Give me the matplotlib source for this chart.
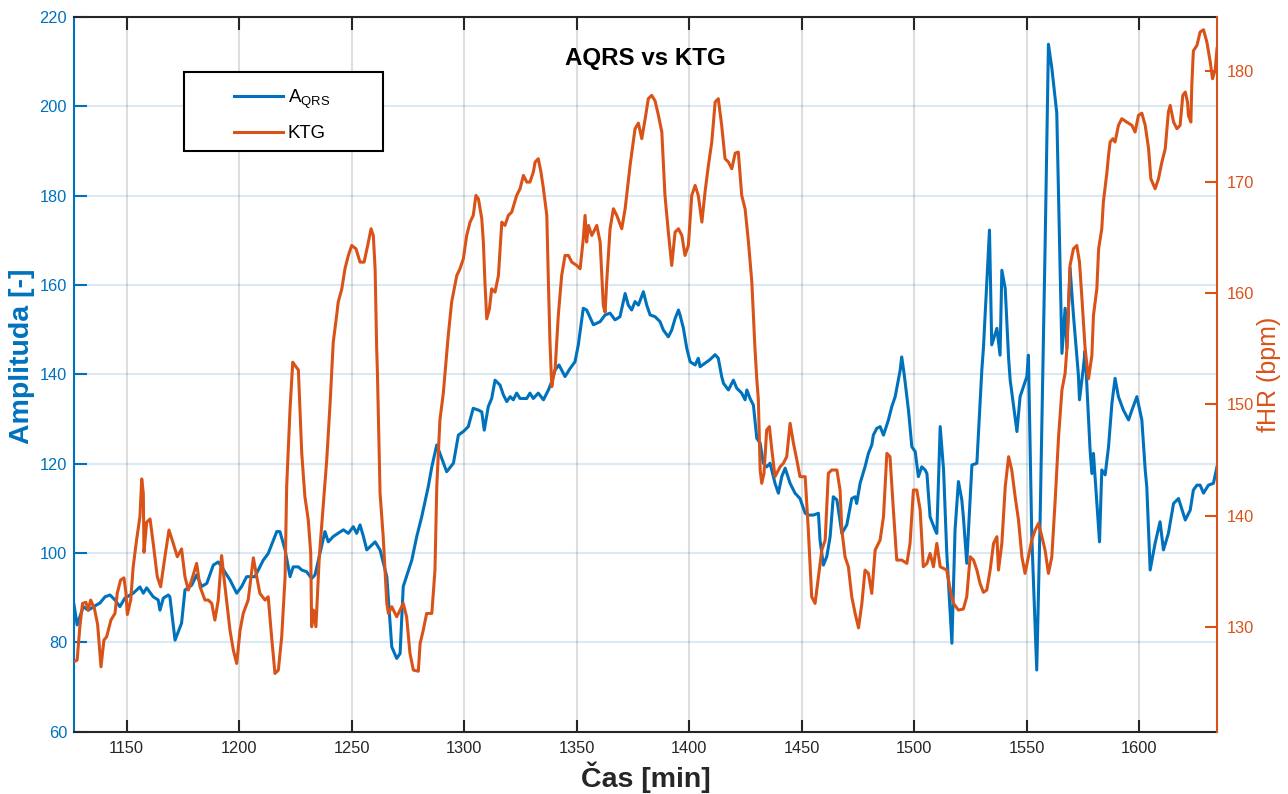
import matplotlib
matplotlib.use("Agg")
import matplotlib.pyplot as plt
from matplotlib.patches import Rectangle

plt.rcParams["font.family"] = ["Liberation Sans", "DejaVu Sans"]
plt.rcParams["mathtext.fontset"] = "custom"
plt.rcParams["mathtext.rm"] = "Liberation Sans"

# ---- QRS amplitude (left axis) ----
time_aqrs = [1126.6, 1128.0, 1130.7, 1132.9, 1136.7, 1138.1, 1140.4, 1142.6, 1144.8, 1147.0,
             1149.2, 1152.9, 1155.9, 1157.4, 1158.9, 1161.8, 1164.0, 1164.8, 1166.3, 1168.5,
             1169.2, 1171.5, 1174.4, 1175.9, 1178.9, 1181.1, 1183.3, 1185.6, 1188.5, 1190.7,
             1192.2, 1195.9, 1198.9, 1201.1, 1203.3, 1207.0, 1210.7, 1212.9, 1216.7, 1218.1,
             1220.4, 1222.6, 1224.0, 1226.3, 1227.8, 1230.0, 1232.2, 1233.7, 1235.9, 1238.1,
             1239.6, 1241.8, 1246.3, 1248.5, 1250.7, 1252.2, 1253.7, 1255.2, 1256.7, 1260.4,
             1262.6, 1265.6, 1267.8, 1270.0, 1271.5, 1272.9, 1276.7, 1278.9, 1281.1, 1284.0,
             1285.6, 1287.8, 1292.2, 1295.2, 1297.4, 1299.6, 1301.8, 1304.0, 1306.3, 1307.8,
             1308.9, 1310.7, 1312.2, 1313.7, 1315.9, 1317.4, 1318.9, 1320.4, 1321.8, 1323.3,
             1324.8, 1327.8, 1329.2, 1330.7, 1332.9, 1335.2, 1337.4, 1338.9, 1340.4, 1342.1,
             1344.8, 1347.0, 1349.2, 1350.7, 1352.9, 1354.4, 1357.4, 1360.4, 1362.6, 1364.8,
             1367.0, 1369.2, 1371.5, 1372.9, 1374.4, 1375.9, 1377.4, 1379.6, 1381.1, 1382.6,
             1384.8, 1387.0, 1388.5, 1390.7, 1392.2, 1393.7, 1395.2, 1395.9, 1397.4, 1398.9,
             1400.4, 1402.6, 1404.0, 1404.8, 1407.0, 1409.2, 1411.5, 1412.9, 1414.4, 1415.2,
             1417.4, 1419.6, 1421.1, 1423.3, 1424.8, 1425.6, 1427.0, 1428.5, 1430.0, 1431.5,
             1432.9, 1434.4, 1435.9, 1438.1, 1439.6, 1441.1, 1442.6, 1444.8, 1447.0, 1449.2,
             1451.5, 1452.9, 1455.2, 1457.4, 1458.1, 1459.6, 1461.1, 1462.6, 1464.0, 1465.6,
             1467.8, 1470.0, 1472.2, 1473.7, 1474.4, 1475.9, 1478.1, 1479.6, 1481.1, 1481.8,
             1483.3, 1484.8, 1486.3, 1487.0, 1488.5, 1490.0, 1491.5, 1493.7, 1494.4, 1495.5,
             1497.4, 1498.9, 1500.4, 1501.8, 1503.3, 1504.8, 1505.6, 1507.0, 1509.2, 1510.0,
             1511.5, 1513.0, 1514.4, 1516.7, 1518.1, 1519.6, 1521.1, 1521.8, 1523.3, 1525.6,
             1527.8, 1530.0, 1530.7, 1533.4, 1534.4, 1536.7, 1538.1, 1538.9, 1540.4, 1541.9,
             1542.6, 1545.6, 1547.0, 1550.0, 1550.7, 1552.2, 1554.4, 1555.9, 1558.1, 1559.6,
             1561.1, 1563.3, 1565.6, 1567.0, 1567.8, 1569.2, 1570.7, 1572.9, 1573.4, 1575.0,
             1575.9, 1578.1, 1578.9, 1579.6, 1582.3, 1583.3, 1584.8, 1586.3, 1587.8, 1589.2,
             1590.7, 1592.9, 1595.2, 1596.7, 1598.9, 1601.1, 1602.6, 1603.3, 1604.8, 1607.0,
             1609.2, 1610.7, 1612.9, 1615.2, 1617.4, 1620.4, 1622.6, 1624.0, 1625.6, 1627.0,
             1628.5, 1630.7, 1632.9, 1634.5]
aqrs = [88.4, 83.9, 88.0, 87.2, 88.4, 88.8, 90.2, 90.6, 89.5, 88.0,
        89.9, 91.0, 92.4, 91.0, 92.2, 90.2, 89.5, 87.2, 89.9, 90.6,
        90.2, 80.5, 84.3, 91.7, 92.8, 95.1, 92.5, 93.2, 97.3, 98.0,
        96.9, 94.0, 91.0, 92.5, 94.7, 94.7, 98.4, 99.9, 104.8, 104.8,
        100.7, 94.7, 96.9, 96.9, 96.2, 95.8, 94.3, 95.1, 99.9, 104.8,
        102.5, 103.7, 105.2, 104.4, 105.9, 104.4, 106.3, 103.7, 100.7, 102.5,
        100.7, 94.7, 79.0, 76.4, 77.5, 92.5, 98.4, 103.7, 108.1, 114.8,
        119.3, 124.2, 118.2, 120.1, 126.4, 127.2, 128.3, 132.4, 132.0, 131.6,
        127.5, 132.8, 134.6, 138.7, 137.6, 135.4, 133.9, 135.0, 134.3, 135.8,
        134.6, 134.6, 135.8, 134.6, 135.8, 134.3, 136.5, 138.4, 141.0, 142.1,
        139.5, 141.3, 142.8, 146.6, 154.8, 154.4, 151.1, 151.8, 153.3, 153.7,
        152.2, 152.9, 158.1, 155.5, 154.4, 156.3, 155.5, 158.5, 155.5, 153.3,
        152.9, 151.8, 149.9, 148.4, 149.9, 152.5, 154.4, 153.3, 150.3, 145.8,
        142.8, 142.1, 143.6, 141.7, 142.5, 143.3, 144.4, 143.6, 139.5, 138.0,
        136.5, 138.7, 136.9, 135.8, 134.3, 136.5, 134.6, 133.1, 125.7, 124.6,
        120.1, 119.3, 120.1, 115.6, 113.4, 117.1, 119.0, 115.6, 113.4, 112.2,
        108.9, 108.5, 108.5, 108.9, 102.9, 97.3, 99.2, 103.7, 112.6, 111.9,
        104.4, 106.3, 112.2, 112.6, 111.1, 115.6, 119.3, 122.3, 124.2, 126.4,
        127.9, 128.3, 126.4, 127.5, 129.8, 132.8, 135.0, 140.9, 143.9, 140.0,
        132.0, 123.8, 122.7, 117.1, 119.3, 118.6, 117.8, 108.1, 105.2, 104.4,
        128.3, 118.6, 100.3, 79.8, 105.2, 116.0, 111.9, 108.1, 97.7, 119.7,
        120.1, 141.0, 145.8, 172.3, 146.6, 150.3, 144.3, 163.3, 159.2, 143.6,
        138.7, 127.2, 135.0, 139.5, 144.3, 103.7, 73.8, 107.4, 168.2, 213.9,
        208.6, 198.5, 144.7, 154.8, 145.8, 163.8, 153.3, 139.9, 134.3, 141.0,
        145.3, 123.1, 117.8, 122.3, 102.5, 118.6, 117.5, 123.8, 133.5, 139.1,
        135.0, 132.0, 129.8, 132.0, 135.0, 129.8, 118.6, 114.8, 96.2, 102.2,
        107.0, 100.7, 104.4, 111.1, 112.2, 107.4, 109.6, 114.1, 115.2, 115.2,
        113.4, 115.2, 115.6, 119.3]

# ---- fetal heart rate from CTG (right axis) ----
time_ktg = [1127.0, 1128.0, 1129.2, 1130.4, 1131.9, 1132.9, 1134.0, 1135.6, 1137.1, 1138.6,
            1139.9, 1141.1, 1143.0, 1144.8, 1145.8, 1147.3, 1148.8, 1149.7, 1150.3, 1151.8,
            1152.9, 1154.4, 1155.9, 1156.7, 1157.4, 1157.7, 1158.9, 1160.4, 1161.8, 1163.6,
            1165.1, 1167.0, 1168.8, 1170.7, 1172.5, 1174.4, 1175.9, 1177.4, 1178.9, 1181.1,
            1182.6, 1184.8, 1186.3, 1187.8, 1189.2, 1190.7, 1192.2, 1193.2, 1194.4, 1195.9,
            1197.4, 1198.9, 1200.4, 1201.8, 1204.0, 1206.3, 1207.8, 1209.2, 1211.5, 1212.9,
            1214.4, 1215.9, 1217.4, 1218.9, 1220.4, 1221.1, 1222.6, 1223.8, 1224.8, 1226.3,
            1227.8, 1229.2, 1230.7, 1231.8, 1232.2, 1233.0, 1234.1, 1235.6, 1237.4, 1238.9,
            1240.4, 1241.8, 1243.3, 1244.0, 1245.6, 1247.0, 1248.5, 1250.0, 1251.9, 1253.7,
            1255.5, 1257.1, 1258.6, 1259.6, 1260.4, 1261.1, 1261.4, 1262.6, 1264.0, 1265.6,
            1266.3, 1267.8, 1270.0, 1271.5, 1272.9, 1274.4, 1275.9, 1277.4, 1279.6, 1280.4,
            1281.8, 1283.3, 1285.6, 1287.0, 1287.8, 1289.2, 1290.7, 1292.9, 1294.4, 1296.7,
            1298.1, 1299.6, 1301.1, 1302.6, 1304.0, 1305.2, 1306.3, 1307.8, 1308.5, 1309.2,
            1310.0, 1311.2, 1312.2, 1313.7, 1315.2, 1316.7, 1318.1, 1319.6, 1321.1, 1323.3,
            1324.8, 1326.3, 1327.8, 1329.2, 1330.7, 1331.5, 1332.9, 1334.1, 1335.2, 1336.7,
            1337.4, 1338.1, 1338.9, 1339.6, 1340.4, 1341.8, 1343.3, 1344.8, 1346.3, 1347.8,
            1350.0, 1351.5, 1352.9, 1353.7, 1354.4, 1355.2, 1356.7, 1358.9, 1360.4, 1361.8,
            1362.6, 1363.3, 1364.8, 1366.3, 1367.8, 1370.0, 1371.5, 1373.7, 1375.9, 1377.4,
            1378.9, 1380.4, 1381.8, 1383.3, 1384.8, 1386.3, 1387.8, 1389.2, 1390.7, 1392.2,
            1393.7, 1395.2, 1396.7, 1398.1, 1399.6, 1401.1, 1402.6, 1404.0, 1405.6, 1407.0,
            1408.5, 1410.0, 1411.5, 1412.9, 1414.4, 1415.9, 1417.4, 1418.9, 1420.4, 1421.8,
            1423.3, 1424.8, 1426.3, 1427.8, 1429.2, 1430.0, 1430.7, 1431.5, 1432.2, 1433.2,
            1434.4, 1435.6, 1436.7, 1438.1, 1440.4, 1441.8, 1443.3, 1444.8, 1446.3, 1447.8,
            1449.2, 1451.5, 1452.9, 1454.4, 1455.9, 1457.4, 1458.9, 1460.4, 1461.8, 1463.3,
            1465.6, 1467.0, 1467.8, 1469.2, 1470.7, 1472.2, 1473.7, 1475.2, 1476.7, 1478.1,
            1479.6, 1481.1, 1482.6, 1484.8, 1486.3, 1487.8, 1489.2, 1490.7, 1492.2, 1494.4,
            1496.7, 1498.1, 1499.6, 1501.1, 1502.6, 1504.0, 1505.6, 1507.0, 1508.5, 1510.0,
            1511.5, 1514.4, 1516.0, 1517.4, 1519.6, 1521.8, 1523.3, 1524.8, 1526.3, 1527.8,
            1529.2, 1530.7, 1532.2, 1533.7, 1535.2, 1536.7, 1537.4, 1538.9, 1540.4, 1541.9,
            1543.3, 1544.8, 1546.3, 1547.8, 1549.2, 1550.7, 1552.2, 1553.7, 1555.2, 1556.7,
            1558.1, 1559.6, 1561.1, 1562.6, 1564.1, 1565.6, 1567.0, 1567.8, 1569.2, 1570.7,
            1572.2, 1573.4, 1574.4, 1575.9, 1577.4, 1578.9, 1579.6, 1581.1, 1581.9, 1583.3,
            1584.0, 1585.6, 1586.3, 1587.0, 1588.2, 1589.2, 1590.7, 1592.2, 1594.4, 1596.7,
            1598.1, 1599.6, 1601.1, 1602.6, 1604.1, 1605.1, 1607.0, 1608.5, 1610.0, 1611.5,
            1612.9, 1613.7, 1615.2, 1616.7, 1618.1, 1619.3, 1620.4, 1621.4, 1621.8, 1622.9,
            1623.3, 1624.0, 1625.6, 1627.0, 1628.5, 1630.0, 1631.5, 1632.5, 1633.7, 1634.5]
ktg = [126.9, 127.0, 130.0, 132.1, 132.2, 131.5, 132.4, 131.7, 130.2, 126.4,
       128.8, 129.1, 130.6, 131.2, 133.0, 134.2, 134.4, 133.0, 131.1, 132.4,
       135.4, 137.8, 139.9, 143.3, 142.0, 136.7, 139.4, 139.7, 137.5, 134.5,
       133.6, 136.3, 138.7, 137.5, 136.3, 137.0, 134.5, 133.3, 134.2, 135.7,
       133.6, 132.4, 132.4, 132.1, 130.6, 132.4, 136.4, 134.5, 132.4, 129.7,
       127.9, 126.7, 129.7, 131.2, 132.4, 136.2, 134.5, 133.0, 132.4, 132.7,
       129.1, 125.8, 126.1, 129.1, 134.5, 142.6, 149.6, 153.8, 153.5, 153.1,
       145.6, 141.7, 139.6, 136.6, 130.0, 131.5, 130.0, 136.3, 141.1, 145.0,
       150.1, 155.6, 158.0, 159.2, 160.4, 162.2, 163.4, 164.3, 164.0, 162.8,
       162.8, 164.3, 165.8, 165.2, 162.2, 155.0, 153.1, 142.0, 138.1, 132.1,
       131.2, 131.8, 130.9, 131.5, 132.1, 130.9, 127.6, 126.1, 126.0, 128.5,
       129.7, 131.2, 131.2, 135.1, 142.6, 148.6, 151.0, 156.2, 159.2, 161.6,
       162.2, 163.1, 165.2, 166.4, 167.0, 168.8, 168.5, 166.7, 164.6, 161.0,
       157.7, 158.6, 160.4, 160.1, 161.6, 166.4, 166.1, 167.0, 167.3, 168.8,
       169.4, 170.6, 170.0, 170.0, 170.9, 171.8, 172.1, 170.9, 169.4, 167.0,
       161.0, 155.6, 151.6, 152.5, 153.2, 158.0, 161.6, 163.4, 163.4, 162.8,
       162.5, 162.2, 164.9, 167.0, 164.6, 166.1, 165.2, 166.1, 164.6, 158.9,
       158.3, 161.0, 165.8, 167.6, 167.0, 165.8, 167.6, 171.5, 174.8, 175.3,
       173.9, 175.7, 177.5, 177.8, 177.3, 176.0, 174.5, 168.8, 165.5, 162.5,
       165.5, 165.8, 165.2, 163.4, 164.3, 168.8, 169.7, 168.8, 166.4, 169.1,
       171.5, 173.6, 177.2, 177.5, 175.1, 172.1, 171.8, 171.2, 172.6, 172.7,
       168.8, 167.6, 164.6, 161.0, 155.0, 152.3, 150.4, 144.1, 142.9, 143.8,
       147.7, 148.0, 145.9, 143.5, 144.4, 144.7, 145.3, 148.3, 146.5, 145.0,
       143.5, 143.5, 138.7, 132.7, 132.1, 134.5, 136.9, 137.8, 143.8, 144.1,
       144.1, 142.3, 138.7, 136.3, 135.4, 132.7, 131.2, 129.9, 132.1, 135.1,
       134.8, 133.0, 136.9, 137.8, 139.9, 145.6, 145.3, 140.5, 136.0, 136.0,
       135.7, 137.5, 142.3, 142.3, 140.5, 135.4, 135.7, 136.6, 135.4, 137.5,
       135.4, 135.1, 133.3, 132.1, 131.5, 131.6, 132.7, 136.3, 136.0, 135.1,
       133.9, 133.1, 133.3, 135.1, 137.5, 138.1, 135.1, 137.5, 142.6, 145.3,
       144.1, 141.7, 139.6, 136.3, 134.8, 136.3, 137.8, 138.7, 139.3, 138.1,
       136.9, 134.8, 136.3, 141.4, 147.1, 151.3, 152.8, 155.0, 162.5, 164.0,
       164.3, 162.8, 159.8, 155.0, 152.3, 154.4, 158.0, 160.4, 164.0, 165.8,
       168.2, 170.9, 172.4, 173.6, 173.9, 173.6, 175.1, 175.7, 175.4, 175.1,
       174.5, 176.0, 176.2, 175.1, 173.0, 170.3, 169.4, 170.3, 171.8, 173.0,
       176.3, 176.9, 175.4, 174.8, 175.1, 177.8, 178.1, 177.2, 176.0, 175.4,
       178.7, 181.8, 182.3, 183.5, 183.7, 182.6, 180.8, 179.3, 180.1, 182.0]

time_ticks = [1150, 1200, 1250, 1300, 1350, 1400, 1450, 1500, 1550, 1600]
amp_ticks = [60, 80, 100, 120, 140, 160, 180, 200, 220]
fhr_ticks = [130, 140, 150, 160, 170, 180]
series_labels = [r"A$_{\mathrm{QRS}}$", "KTG"]

BLUE = (0.0, 0.447, 0.741)
ORANGE = (0.850, 0.325, 0.098)
DARK = (0.15, 0.15, 0.15)

W, H = 1288, 794
fig = plt.figure(figsize=(W / 100, H / 100), dpi=100)
ax_left, ax_right_px, ax_top, ax_bot = 74, 1217, 17, 731.7
ax = fig.add_axes([ax_left / W, 1 - ax_bot / H, (ax_right_px - ax_left) / W, (ax_bot - ax_top) / H])
ax2 = ax.twinx()

line_a, = ax.plot(time_aqrs, aqrs, color=BLUE, lw=2.2, solid_joinstyle="round")
line_k, = ax2.plot(time_ktg, ktg, color=ORANGE, lw=2.2, solid_joinstyle="round")

ax.set_xlim(1126.6, 1634.5)
ax.set_ylim(60, 220)
ax2.set_ylim(120.56, 184.85)
ax.set_xticks(time_ticks)
ax.set_yticks(amp_ticks)
ax2.set_yticks(fhr_ticks)

# grids: vertical in neutral grey, horizontal tinted with the left-axis colour
ax.xaxis.grid(True, color=DARK, alpha=0.15, lw=1.5)
ax.yaxis.grid(True, color=BLUE, alpha=0.15, lw=1.5)
ax.set_axisbelow(True)

tick_fs = 11.8
ax.tick_params(axis="x", direction="in", length=9, width=1.5, color=DARK,
               labelcolor=DARK, labelsize=tick_fs, pad=7, top=True)
ax.tick_params(axis="y", direction="in", length=9, width=1.5, color=BLUE,
               labelcolor=BLUE, labelsize=tick_fs, pad=5, right=False)
ax2.tick_params(axis="y", direction="in", length=9, width=1.5, color=ORANGE,
                labelcolor=ORANGE, labelsize=tick_fs, pad=7)

for s in ("top", "bottom"):
    ax.spines[s].set_color(DARK)
    ax.spines[s].set_linewidth(1.5)
ax.spines["left"].set_color(BLUE)
ax.spines["left"].set_linewidth(1.5)
ax.spines["right"].set_visible(False)
for s in ("top", "bottom", "left"):
    ax2.spines[s].set_visible(False)
ax2.spines["right"].set_color(ORANGE)
ax2.spines["right"].set_linewidth(1.5)

def fx(px):
    return (px - ax_left) / (ax_right_px - ax_left)

def fy(py):
    return (ax_bot - py) / (ax_bot - ax_top)

ax.set_xlabel("Čas [min]", fontsize=20.5, fontweight="bold", color=DARK)
ax.xaxis.set_label_coords(0.5, fy(777))
ax.xaxis.label.set_va("center")
ax.set_ylabel("Amplituda [-]", fontsize=20.5, fontweight="bold", color=BLUE, va="center")
ax.yaxis.set_label_coords(fx(22), fy(356))
ax2.set_ylabel("fHR (bpm)", fontsize=18, color=ORANGE, va="center", rotation=90)
ax2.yaxis.set_label_coords(fx(1269), 0.5)

ax2.text(0.5, fy(58), "AQRS vs KTG", transform=ax2.transAxes, ha="center", va="center",
         fontsize=17.4, fontweight="bold", color="black")

# legend box
box = Rectangle((fx(184.3), fy(151)), fx(382.7) - fx(184.3), fy(72.3) - fy(151),
                transform=ax2.transAxes, facecolor="white", edgecolor="black",
                lw=1.5, zorder=4.5)
ax2.add_patch(box)
leg = ax2.legend([line_a, line_k], series_labels, loc="center",
                 bbox_to_anchor=(fx(282), fy(115)), frameon=False, fontsize=13.4,
                 handlelength=2.6, handletextpad=0.27, labelspacing=0.75, borderpad=0)
leg.set_zorder(5)
for t in leg.get_texts():
    t.set_color("black")

fig.savefig("out.png", dpi=100)
